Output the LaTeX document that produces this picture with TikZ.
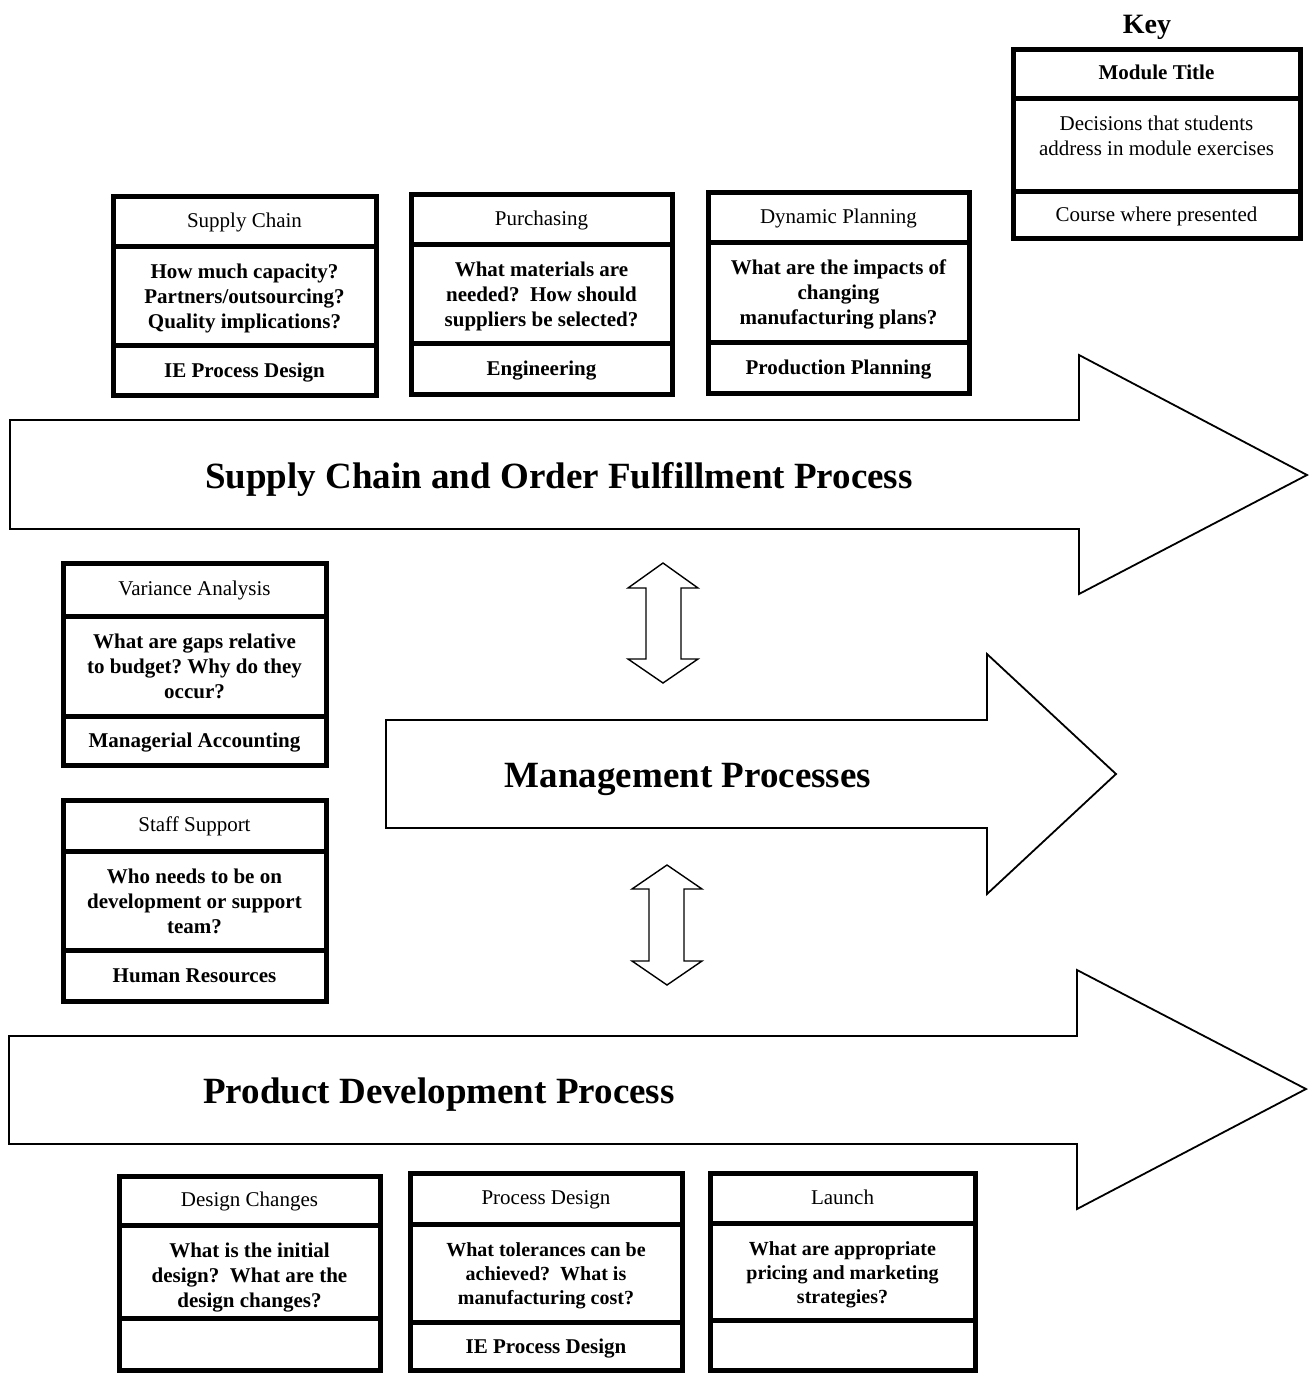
\documentclass[tikz,border=0pt]{standalone}
\usepackage{fontspec}
\setmainfont{Liberation Serif}
\frenchspacing
\begin{document}
\begin{tikzpicture}[x=1pt,y=-1pt,
  modline/.style={line width=5pt, line cap=rect},
  bigarrow/.style={draw, line width=1.8pt, line join=miter, fill=white},
  dblarrow/.style={draw, line width=1.4pt, line join=miter, fill=white},
  titletext/.style={inner sep=0pt, anchor=base, font=\fontsize{21}{25}\selectfont},
  bodytext/.style={inner sep=0pt, anchor=north, align=center, font=\fontsize{21}{25}\selectfont\bfseries},
  smallbody/.style={inner sep=0pt, anchor=north, align=center, font=\fontsize{20}{24}\selectfont\bfseries},
  foottext/.style={inner sep=0pt, anchor=base, font=\fontsize{21}{25}\selectfont\bfseries},
  bigtitle/.style={inner sep=0pt, anchor=base, font=\fontsize{37}{44}\selectfont\bfseries}
]
\useasboundingbox (0,0) rectangle (1309,1374);

\newcommand{\modframe}[7]{%
  \draw[modline] (#2,#3) rectangle (#4,#5);
  \draw[modline] (#2,#6) -- (#4,#6);
  \draw[modline] (#2,#7) -- (#4,#7);
  \coordinate (#1-t) at ({(#2+#4)/2},{(#3+#6)/2+6});
  \coordinate (#1-b) at ({(#2+#4)/2},{#6+18});
  \coordinate (#1-f) at ({(#2+#4)/2},{(#7+#5)/2+7});
}

% big process arrows
\draw[bigarrow] (10,420) -- (1079,420) -- (1079,355) -- (1307,475) -- (1079,594) -- (1079,529) -- (10,529) -- cycle;
\draw[bigarrow] (386,720) -- (987,720) -- (987,654) -- (1116,774) -- (987,894) -- (987,828) -- (386,828) -- cycle;
\draw[bigarrow] (9,1036) -- (1077,1036) -- (1077,970) -- (1306,1089) -- (1077,1209) -- (1077,1144) -- (9,1144) -- cycle;

\node[bigtitle] (scof) at (559,488) {Supply Chain and Order Fulfillment Process};
\node[bigtitle] (mgmt) at (688,787) {Management Processes};
\node[bigtitle] (pdp) at (439,1103) {Product Development Process};

% double arrows
\draw[dblarrow] (663,563) -- (698,588) -- (681,588) -- (681,659) -- (698,659) -- (663,683) -- (628,659) -- (646,659) -- (646,588) -- (628,588) -- cycle;
\draw[dblarrow] (667,865) -- (702,889) -- (684,889) -- (684,961) -- (702,961) -- (667,985) -- (632,961) -- (649,961) -- (649,889) -- (632,889) -- cycle;

% Key
\node[inner sep=0pt, anchor=base, font=\fontsize{28}{32}\selectfont\bfseries] (keylabel) at (1147,33) {Key};
\modframe{key}{1013}{49}{1300}{238}{98}{191}
\node[titletext, font=\fontsize{21}{25}\selectfont\bfseries] (key-title) at (key-t) {Module Title};
\node[bodytext, font=\fontsize{21}{25}\selectfont] (key-body) at (key-b) {Decisions that students\\address in module exercises};
\node[foottext, font=\fontsize{21}{25}\selectfont] (key-foot) at (key-f) {Course where presented};

% top row
\modframe{sc}{113}{196}{376}{395}{246}{345}
\node[titletext] (sc-title) at (sc-t) {Supply Chain};
\node[bodytext] (sc-body) at (sc-b) {How much capacity?\\Partners/outsourcing?\\Quality implications?};
\node[foottext] (sc-foot) at (sc-f) {IE Process Design};

\modframe{pu}{411}{194}{672}{394}{244}{343}
\node[titletext] (pu-title) at (pu-t) {Purchasing};
\node[bodytext] (pu-body) at (pu-b) {What materials are\\needed?~ How should\\suppliers be selected?};
\node[foottext] (pu-foot) at (pu-f) {Engineering};

\modframe{dp}{708}{192}{969}{393}{242}{342}
\node[titletext] (dp-title) at (dp-t) {Dynamic Planning};
\node[bodytext] (dp-body) at (dp-b) {What are the impacts of\\changing\\manufacturing plans?};
\node[foottext] (dp-foot) at (dp-f) {Production Planning};

% left column
\modframe{va}{63}{563}{326}{765}{616}{716}
\node[titletext] (va-title) at (va-t) {Variance Analysis};
\node[bodytext] (va-body) at (va-b) {What are gaps relative\\to budget? Why do they\\occur?};
\node[foottext] (va-foot) at (va-f) {Managerial Accounting};

\modframe{ss}{63}{800}{326}{1001}{851}{950}
\node[titletext] (ss-title) at (ss-t) {Staff Support};
\node[bodytext] (ss-body) at (ss-b) {Who needs to be on\\development or support\\team?};
\node[foottext] (ss-foot) at (ss-f) {Human Resources};

% bottom row
\modframe{dc}{119}{1176}{380}{1370}{1225}{1318}
\node[titletext] (dc-title) at (dc-t) {Design Changes};
\node[bodytext] (dc-body) at (dc-b) {What is the initial\\design?~ What are the\\design changes?};

\modframe{pd}{410}{1173}{682}{1370}{1224}{1322}
\node[titletext] (pd-title) at (pd-t) {Process Design};
\node[smallbody] (pd-body) at (pd-b) {What tolerances can be\\achieved?~ What is\\manufacturing cost?};
\node[foottext] (pd-foot) at (pd-f) {IE Process Design};

\modframe{la}{710}{1173}{975}{1370}{1223}{1320}
\node[titletext] (la-title) at (la-t) {Launch};
\node[smallbody] (la-body) at (la-b) {What are appropriate\\pricing and marketing\\strategies?};

\end{tikzpicture}
\end{document}
